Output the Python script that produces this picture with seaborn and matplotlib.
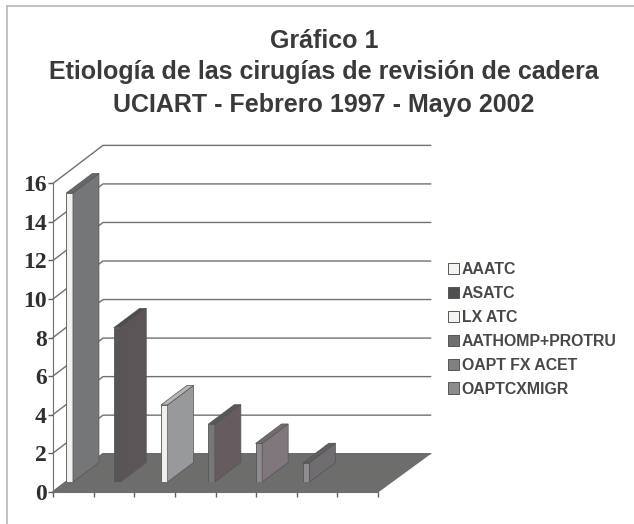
import matplotlib
matplotlib.use("Agg")
import matplotlib.pyplot as plt
from matplotlib.patches import Patch, Polygon
from matplotlib.lines import Line2D
import pandas as pd
import seaborn as sns

categories = ["AAATC", "ASATC", "LX ATC", "AATHOMP+PROTRU", "OAPT FX ACET", "OAPTCXMIGR"]
values = [15, 8, 4, 3, 2, 1]
y_ticks = [0, 2, 4, 6, 8, 10, 12, 14, 16]
y_top = 18
title_lines = ["Gráfico 1", "Etiología de las cirugías de revisión de cadera", "UCIART - Febrero 1997 - Mayo 2002"]

front_colors = ["#f2f2ee", "#55565a", "#f0f0ec", "#77757a", "#8f8a8e", "#8f8d90"]
side_colors = ["#747678", "#5b5558", "#98999b", "#665c60", "#7f777c", "#706c70"]
top_colors = ["#666869", "#4c4d50", "#b5b6b6", "#57565a", "#6f6c70", "#5f5e62"]
legend_colors = ["#f4f4f0", "#4f4f52", "#f4f4f0", "#6f6f72", "#808080", "#8c8c8c"]

W, H = 634, 524
PX = 19.27  # pixels per y unit


def box(left, top, right, bottom):
    return [left / W, 1 - bottom / H, (right - left) / W, (bottom - top) / H]


sns.set_style("white")
fig = plt.figure(figsize=(W / 100, H / 100), dpi=100, facecolor="white")

# scanned frame: only the top and left edges show
fig.add_artist(Line2D([7 / W, 7 / W], [0, 1 - 6 / H], color="#b8b8b8", lw=1.2))
fig.add_artist(Line2D([7 / W, 1], [1 - 6 / H, 1 - 6 / H], color="#b8b8b8", lw=1.2))

for line, y in zip(title_lines, [41, 72, 105]):
    fig.text(324 / W, 1 - y / H, line, ha="center", va="center", fontsize=18,
             fontweight="bold", family="Liberation Sans", color="#3a3a3a")

# walls and floor, x in tick units, y in value units
wall = fig.add_axes(box(53, 491.7 - y_top * PX, 378, 491.7), facecolor="none")
wall.set_xlim(0, 8)
wall.set_ylim(0, y_top)
unit_x = 325 / 8
dx = 50 / unit_x
dy = 38 / PX
for t in y_ticks:
    wall.plot([0, dx, 9.3], [t, t + dy, t + dy], color="#707070", lw=1, clip_on=False, zorder=1)
wall.add_patch(Polygon([(0, 0), (dx, dy), (8 + 52 / unit_x, dy), (8, 0)], closed=True,
                       facecolor="#6d6d6b", edgecolor="#6d6d6b", zorder=2, clip_on=False))
wall.set_yticks(y_ticks)
wall.set_xticks(range(9))
wall.set_xticklabels([])
wall.set_yticklabels(y_ticks, fontsize=17, fontweight="bold", family="Liberation Serif", color="#2f2f2f")
wall.tick_params(axis="both", length=3.5, width=1, color="#606060", bottom=True, left=True, pad=1)
sns.despine(ax=wall, top=True, right=True)
for side in ["left", "bottom"]:
    wall.spines[side].set_color("#707070")
wall.spines["left"].set_bounds(0, 16)
wall.spines["bottom"].set_zorder(3)

# bars, with their own axes shifted into the depth of the floor
bar_ax = fig.add_axes(box(46, 482 - y_top * PX, 46 + 47.3 * 7, 482), facecolor="none")
df = pd.DataFrame({"categoria": categories, "casos": values})
sns.barplot(data=df, x="categoria", y="casos", hue="categoria", palette=front_colors, dodge=False,
            legend=False, width=0.14, edgecolor="#555555", linewidth=0.6, ax=bar_ax, zorder=4)
bar_ax.set_xlim(-0.5, 6.5)
bar_ax.set_ylim(0, y_top)
bar_ax.axis("off")

depth_x = 26 / 47.3
depth_y = 19.5 / PX
for bar, sc, tc in zip(bar_ax.patches, side_colors, top_colors):
    x1 = bar.get_x() + bar.get_width()
    x0 = bar.get_x()
    h = bar.get_height()
    bar_ax.add_patch(Polygon([(x1, 0), (x1 + depth_x, depth_y), (x1 + depth_x, h + depth_y), (x1, h)],
                             closed=True, facecolor=sc, edgecolor="#555555", lw=0.5, zorder=4, clip_on=False))
    bar_ax.add_patch(Polygon([(x0, h), (x1, h), (x1 + depth_x, h + depth_y), (x0 + depth_x, h + depth_y)],
                             closed=True, facecolor=tc, edgecolor="#555555", lw=0.5, zorder=4, clip_on=False))

handles = [Patch(facecolor=c, edgecolor="#555555", lw=0.7) for c in legend_colors]
fig.legend(handles, categories, loc="center left", bbox_to_anchor=(448 / W, 1 - 329.5 / H), frameon=False,
           prop={"family": "Liberation Sans", "weight": "bold", "size": 11.4}, labelcolor="#484848",
           handlelength=0.72, handleheight=0.72, handletextpad=0.15, labelspacing=0.56,
           borderpad=0, borderaxespad=0)

fig.savefig("out.png", dpi=100, facecolor=fig.get_facecolor())
